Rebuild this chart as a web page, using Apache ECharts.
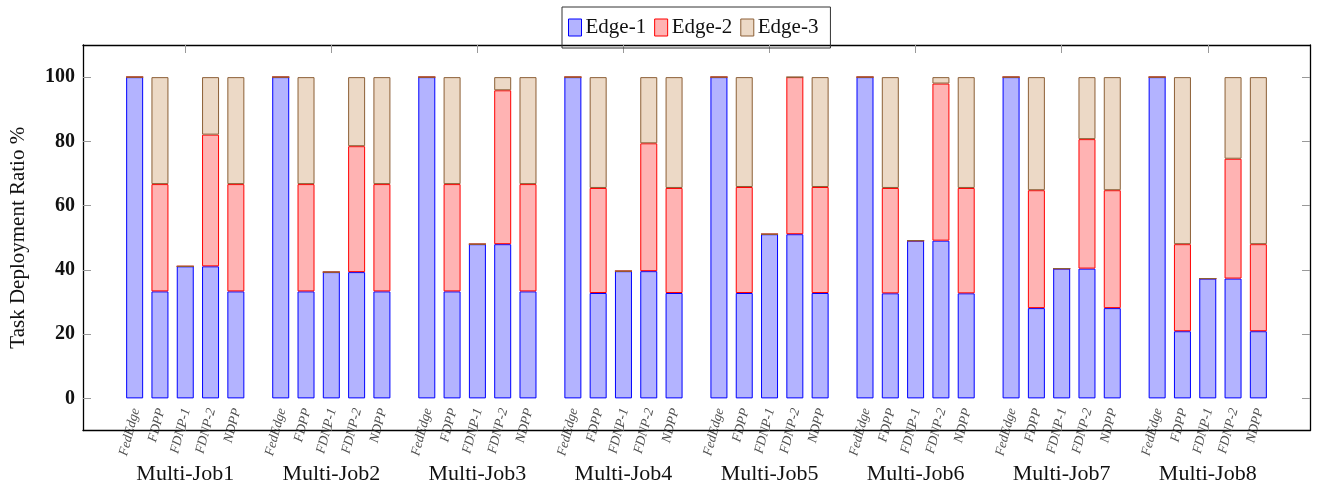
<!DOCTYPE html>
<html>
<head>
<meta charset="utf-8">
<script src="https://cdn.jsdelivr.net/npm/echarts@6/dist/echarts.min.js"></script>
<style>
html,body{margin:0;padding:0;background:#fff;}
#chart{width:1317px;height:485px;}
</style>
</head>
<body>
<div id="chart"></div>
<script>
// ---- data ----
const groups = ['Multi-Job1','Multi-Job2','Multi-Job3','Multi-Job4','Multi-Job5','Multi-Job6','Multi-Job7','Multi-Job8'];
const methods = ['FedEdge','FDPP','FDNP-1','FDNP-2','NDPP'];
// per group: FedEdge, FDPP, FDNP-1, FDNP-2, NDPP
const edge1 = [
  100, 33.3, 41.1, 41.1, 33.3,
  100, 33.3, 39.3, 39.3, 33.3,
  100, 33.3, 48.0, 48.0, 33.3,
  100, 32.8, 39.6, 39.6, 32.8,
  100, 32.8, 51.1, 51.1, 32.8,
  100, 32.7, 49.1, 49.1, 32.7,
  100, 28.1, 40.4, 40.4, 28.1,
  100, 20.9, 37.3, 37.3, 20.9
];
const edge2 = [
  0, 33.4, 0, 41.0, 33.4,
  0, 33.4, 0, 39.2, 33.4,
  0, 33.4, 0, 47.9, 33.4,
  0, 32.7, 0, 39.8, 32.7,
  0, 33.0, 0, 48.9, 33.0,
  0, 32.8, 0, 48.9, 32.8,
  0, 36.7, 0, 40.3, 36.7,
  0, 27.1, 0, 37.3, 27.1
];
const edge3 = [
  0, 33.3, 0, 17.9, 33.3,
  0, 33.3, 0, 21.5, 33.3,
  0, 33.3, 0, 4.1, 33.3,
  0, 34.5, 0, 20.6, 34.5,
  0, 34.2, 0, 0, 34.2,
  0, 34.5, 0, 2.0, 34.5,
  0, 35.2, 0, 19.3, 35.2,
  0, 52.0, 0, 25.4, 52.0
];
const yTicks = [0, 20, 40, 60, 80, 100];
const seriesNames = ['Edge-1','Edge-2','Edge-3'];

// ---- build ----
const barStep = 0.1732; // spacing of bars within a group, in group units
const groupCenters = groups.map((g, i) => i + 1);
const xs = [];
const xNames = [];
groups.forEach((g, gi) => {
  methods.forEach((m, mi) => {
    xs.push(gi + 1 + (mi - 2) * barStep);
    xNames.push(m);
  });
});
// value first so that the stack is computed on the y dimension
const pairs = arr => arr.map((v, i) => [v, xs[i]]);

const serif = 'Liberation Serif';
const styles = [
  {color: '#b3b3ff', borderColor: '#0000ff'},
  {color: '#ffb3b3', borderColor: '#ff0000'},
  {color: '#ecd9c6', borderColor: '#8c5f36'}
];
const vals = [edge1, edge2, edge3];

const barSeries = seriesNames.map((n, k) => ({
  name: n,
  type: 'bar',
  stack: 'total',
  barWidth: 17,
  encode: {x: 1, y: 0},
  data: pairs(vals[k]),
  itemStyle: {color: styles[k].color, borderColor: styles[k].borderColor, borderWidth: 1},
  emphasis: {disabled: true},
  animation: false
}));

const labelSeries = {
  name: 'labels',
  type: 'scatter',
  symbolSize: 0,
  silent: true,
  animation: false,
  data: xs.map((x, i) => ({value: [x, 0], name: xNames[i]})),
  label: {
    show: true,
    formatter: p => p.name,
    position: 'bottom',
    distance: 15,
    offset: [5, 0],
    rotate: 75,
    align: 'right',
    verticalAlign: 'middle',
    fontFamily: serif,
    fontStyle: 'italic',
    fontSize: 13.5,
    color: '#222'
  }
};

const axisLineStyle = {color: '#000', width: 1.3};
const tickStyle = {color: '#999', width: 1};

const option = {
  backgroundColor: '#fff',
  animation: false,
  grid: {left: 83, right: 7, top: 45, bottom: 54.5, outerBoundsMode: 'none', containLabel: false},
  legend: {
    data: seriesNames,
    top: 7,
    left: 562,
    orient: 'horizontal',
    icon: 'rect',
    itemWidth: 13,
    itemHeight: 17,
    itemGap: 8,
    padding: [10, 12, 10, 6],
    borderColor: '#333',
    borderWidth: 1,
    selectedMode: false,
    itemStyle: {borderWidth: 1},
    textStyle: {fontFamily: serif, fontSize: 21, color: '#111', padding: [0, 0, 0, -1]}
  },
  xAxis: [
    {
      type: 'value', min: 0.3, max: 8.7, position: 'bottom',
      axisLine: {show: true, lineStyle: axisLineStyle, onZero: false},
      axisTick: {show: true, inside: true, length: 8, lineStyle: tickStyle, customValues: groupCenters},
      axisLabel: {
        show: true, customValues: groupCenters, margin: 33,
        formatter: v => groups[Math.round(v) - 1],
        fontFamily: serif, fontSize: 22, color: '#111'
      },
      splitLine: {show: false}
    },
    {
      type: 'value', min: 0.3, max: 8.7, position: 'top',
      axisLine: {show: true, lineStyle: axisLineStyle, onZero: false},
      axisTick: {show: true, inside: true, length: 8, lineStyle: tickStyle, customValues: groupCenters},
      axisLabel: {show: false},
      splitLine: {show: false}
    }
  ],
  yAxis: [
    {
      type: 'value', min: -10, max: 110, position: 'left',
      name: 'Task Deployment Ratio %', nameLocation: 'middle', nameGap: 54,
      nameTextStyle: {fontFamily: serif, fontSize: 21, color: '#111'},
      axisLine: {show: true, lineStyle: axisLineStyle, onZero: false},
      axisTick: {show: true, inside: true, length: 8, lineStyle: tickStyle, customValues: yTicks},
      axisLabel: {customValues: yTicks, margin: 8, fontFamily: serif, fontWeight: 'bold', fontSize: 20, color: '#111'},
      splitLine: {show: false}
    },
    {
      type: 'value', min: -10, max: 110, position: 'right',
      axisLine: {show: true, lineStyle: axisLineStyle, onZero: false},
      axisTick: {show: true, inside: true, length: 8, lineStyle: tickStyle, customValues: yTicks},
      axisLabel: {show: false},
      splitLine: {show: false}
    }
  ],
  series: barSeries.concat([labelSeries])
};

const chart = echarts.init(document.getElementById('chart'), null, {renderer: 'canvas'});
chart.setOption(option);
</script>
</body>
</html>
